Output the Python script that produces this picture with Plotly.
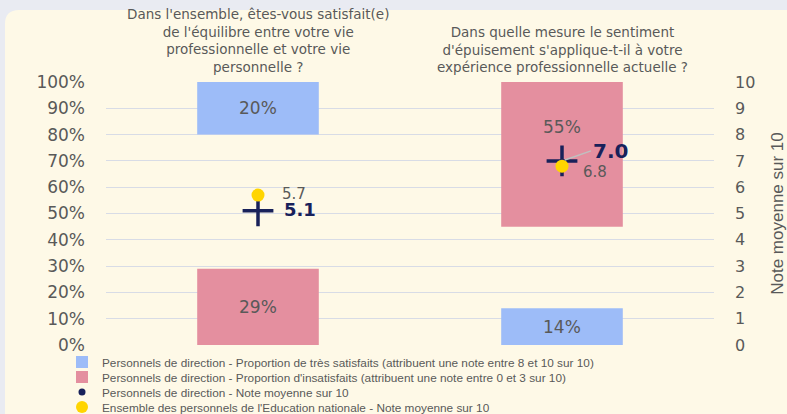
import plotly.graph_objects as go

categories = ["Équilibre vie pro / vie perso", "Sentiment d'épuisement"]
questions = [
    "Dans l'ensemble, êtes-vous satisfait(e)<br>de l'équilibre entre votre vie<br>"
    "professionnelle et votre vie<br>personnelle ?",
    "Dans quelle mesure le sentiment<br>d'épuisement s'applique-t-il à votre<br>"
    "expérience professionnelle actuelle ?",
]
tres_satisfaits = [20, 14]          # % notes 8-10
insatisfaits = [29, 55]             # % notes 0-3
satisfaits_en_haut = [True, False]  # side of the 100% column where each bar sits
note_direction = [5.1, 7.0]
note_ensemble = [5.7, 6.8]
pct_ticks = list(range(0, 101, 10))
note_ticks = list(range(0, 11))

names = [
    "Personnels de direction - Proportion de très satisfaits (attribuent une note entre 8 et 10 sur 10)",
    "Personnels de direction - Proportion d'insatisfaits (attribuent une note entre 0 et 3 sur 10)",
    "Personnels de direction - Note moyenne sur 10",
    "Ensemble des personnels de l'Education nationale - Note moyenne sur 10",
]

BLUE = "#9dbcf8"
PINK = "#e48f9f"
NAVY = "#18215a"
YELLOW = "#ffd500"
GRAY = "#595959"
CREAM = "#fef9e7"
PAGE = "#e9ebf2"
FONT = "Liberation Sans, Arial, sans-serif"
WIDE = "DejaVu Sans, Verdana, sans-serif"

blue_base = [100 - v if top else 0 for v, top in zip(tres_satisfaits, satisfaits_en_haut)]
pink_base = [0 if top else 100 - v for v, top in zip(insatisfaits, satisfaits_en_haut)]

fig = go.Figure()
fig.add_trace(go.Bar(
    x=categories, y=tres_satisfaits, base=blue_base, name=names[0], legend="legend",
    marker=dict(color=BLUE, line=dict(width=0)), width=0.4,
))
fig.add_trace(go.Bar(
    x=categories, y=insatisfaits, base=pink_base, name=names[1], legend="legend2",
    marker=dict(color=PINK, line=dict(width=0)), width=0.4,
))
fig.add_trace(go.Scatter(
    x=categories, y=note_direction, yaxis="y2", mode="markers", showlegend=False,
    marker=dict(symbol="cross-thin", size=22, line=dict(width=3.5, color=NAVY), color=NAVY),
    cliponaxis=False,
))
fig.add_trace(go.Scatter(
    x=[None], y=[None], yaxis="y2", mode="markers", name=names[2], legend="legend3",
    marker=dict(symbol="circle", size=7, color=NAVY),
))
fig.add_trace(go.Scatter(
    x=categories, y=note_ensemble, yaxis="y2", mode="markers", name=names[3], legend="legend4",
    marker=dict(symbol="circle", size=13, color=YELLOW), cliponaxis=False,
))

annotations = []
for cat, q in zip(categories, questions):
    annotations.append(dict(
        x=cat, y=1, xref="x", yref="paper", yanchor="bottom", yshift=5,
        text=q, showarrow=False, align="center",
        font=dict(size=13.5, color=GRAY, family=WIDE),
    ))
# bar value labels (centred in each bar; the 55% label sits higher in the original)
blue_shift = [0, 0]
pink_shift = [0, 27]
for cat, v, b, s in zip(categories, tres_satisfaits, blue_base, blue_shift):
    annotations.append(dict(x=cat, y=b + v / 2, xref="x", yref="y", text=f"{v}%",
                            showarrow=False, yshift=s,
                            font=dict(size=17, color=GRAY, family=WIDE)))
for cat, v, b, s in zip(categories, insatisfaits, pink_base, pink_shift):
    annotations.append(dict(x=cat, y=b + v / 2, xref="x", yref="y", text=f"{v}%",
                            showarrow=False, yshift=s,
                            font=dict(size=17, color=GRAY, family=WIDE)))
# mean scores
annotations.append(dict(x=categories[0], y=note_direction[0], xref="x", yref="y2",
                        text=f"<b>{note_direction[0]:.1f}</b>", showarrow=False,
                        xshift=42, yshift=1, font=dict(size=18, color=NAVY, family=WIDE)))
annotations.append(dict(x=categories[0], y=note_ensemble[0], xref="x", yref="y2",
                        text=f"{note_ensemble[0]:.1f}", showarrow=False,
                        xshift=36, yshift=1, font=dict(size=15, color=GRAY, family=WIDE)))
annotations.append(dict(x=categories[1], y=note_direction[1], xref="x", yref="y2",
                        text=f"<b>{note_direction[1]:.1f}</b>", showarrow=True,
                        arrowhead=0, arrowwidth=1.5, arrowcolor="#c0c0c0",
                        ax=29, ay=-10, xanchor="left", yanchor="middle",
                        standoff=3, font=dict(size=20, color=NAVY, family=WIDE)))
annotations.append(dict(x=categories[1], y=note_ensemble[1], xref="x", yref="y2",
                        text=f"{note_ensemble[1]:.1f}", showarrow=False,
                        xshift=33, yshift=-6, font=dict(size=15, color=GRAY, family=WIDE)))

# plot area in screen pixels
L, T, R, B = 106, 82, 714, 345
W, H = float(R - L), float(B - T)
def px(X):
    return (X - L) / W
def py(Y):
    return (B - Y) / H
r = 14
path = (f"M {px(5)} {py(430)} L {px(5)} {py(10 + r)} "
        f"Q {px(5)} {py(10)} {px(5 + r)} {py(10)} "
        f"L {px(800)} {py(10)} L {px(800)} {py(430)} Z")

legend_rows = [362, 377, 392, 407]
legend_common = dict(x=px(62), xanchor="left", yanchor="middle",
                     font=dict(size=11.8, color=GRAY, family=FONT),
                     bgcolor="rgba(0,0,0,0)", borderwidth=0, itemwidth=30)

fig.update_layout(
    width=787, height=414,
    margin=dict(l=L, r=787 - R, t=T, b=414 - B, autoexpand=False),
    paper_bgcolor=PAGE, plot_bgcolor="rgba(0,0,0,0)",
    barmode="overlay",
    font=dict(family=FONT, color=GRAY),
    showlegend=True,
    legend=dict(y=py(legend_rows[0]), **legend_common),
    legend2=dict(y=py(legend_rows[1]), **legend_common),
    legend3=dict(y=py(legend_rows[2]), **legend_common),
    legend4=dict(y=py(legend_rows[3]), itemsizing="constant", **legend_common),
    xaxis=dict(showticklabels=False, showgrid=False, zeroline=False, showline=False,
               ticks=""),
    yaxis=dict(range=[0, 100], tickvals=pct_ticks, ticktext=[f"{v}%" for v in pct_ticks],
               showgrid=True, gridcolor="#d8dce6", gridwidth=1, zeroline=False,
               showline=False, ticks="", ticklabelstandoff=20,
               tickfont=dict(size=17, color=GRAY, family=WIDE)),
    yaxis2=dict(range=[0, 10], tickvals=note_ticks, overlaying="y", side="right",
                showgrid=False, zeroline=False, showline=False, ticks="",
                ticklabelstandoff=20,
                tickfont=dict(size=16, color=GRAY, family=WIDE),
                title=dict(text="Note moyenne sur 10", standoff=32,
                           font=dict(size=17, color=GRAY, family=FONT))),
    annotations=annotations,
    shapes=[dict(type="path", path=path, xref="paper", yref="paper",
                 fillcolor=CREAM, line=dict(width=0), layer="below")],
)

fig.write_html(
    "out.html",
    config={"displayModeBar": False},
    post_script="document.body.style.margin='0';document.body.style.overflow='hidden';",
)
